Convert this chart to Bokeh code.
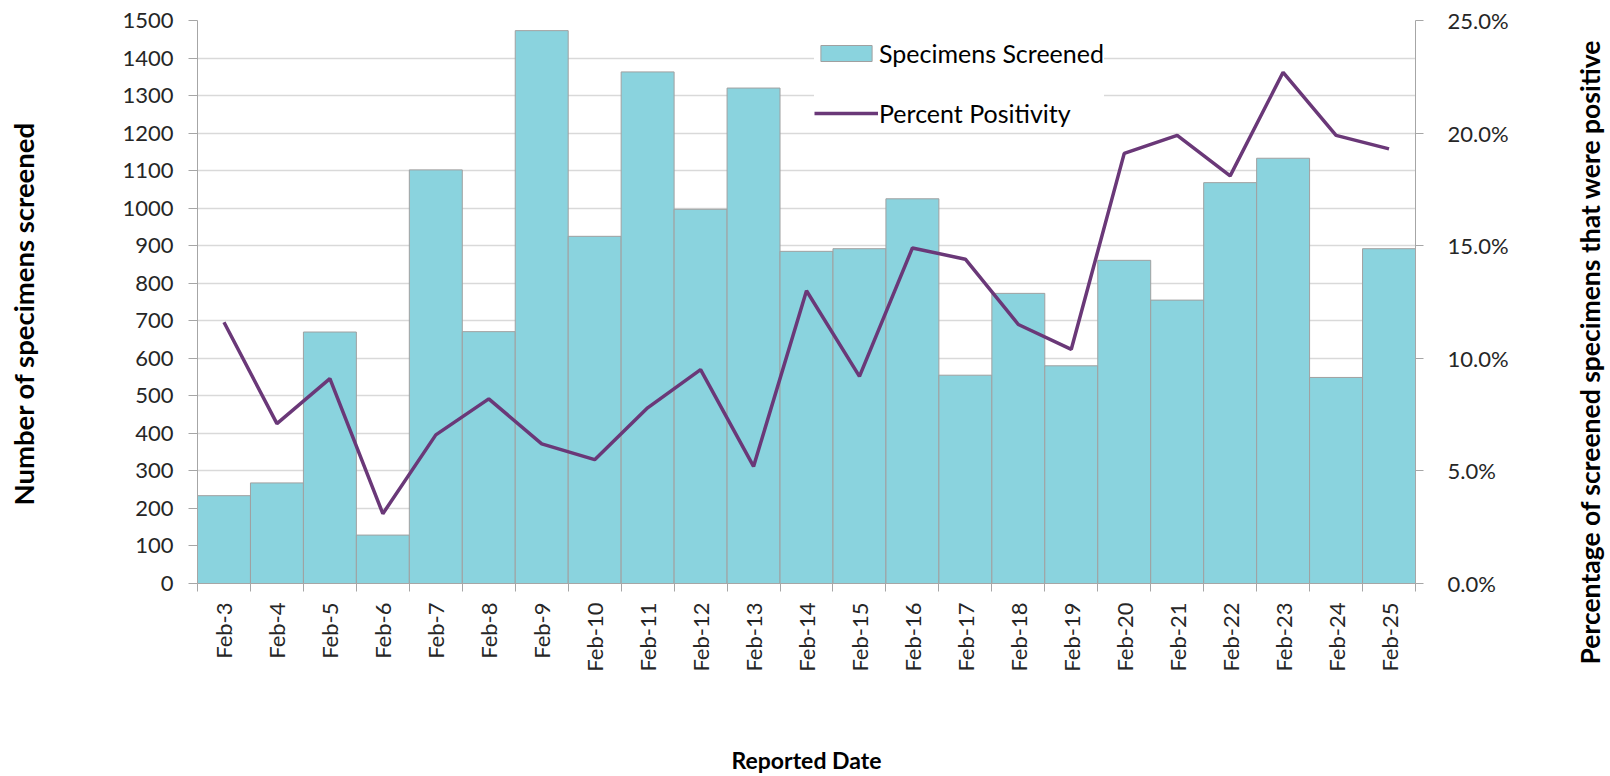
from bokeh.plotting import figure
from bokeh.layouts import row
from bokeh.models import (Range1d, LinearAxis, FixedTicker, CustomJSTickFormatter,
                          Legend, LegendItem, Title)
from bokeh.embed import file_html
from bokeh.resources import INLINE
import math

# ---- data ----
dates = ["Feb-3", "Feb-4", "Feb-5", "Feb-6", "Feb-7", "Feb-8", "Feb-9", "Feb-10",
         "Feb-11", "Feb-12", "Feb-13", "Feb-14", "Feb-15", "Feb-16", "Feb-17",
         "Feb-18", "Feb-19", "Feb-20", "Feb-21", "Feb-22", "Feb-23", "Feb-24", "Feb-25"]
specimens = [234, 268, 670, 129, 1102, 671, 1473, 925, 1363, 997, 1320, 885, 892,
             1025, 555, 773, 580, 861, 755, 1068, 1133, 549, 892]
positivity = [11.6, 7.1, 9.1, 3.1, 6.6, 8.2, 6.2, 5.5, 7.8, 9.5, 5.2, 13.0, 9.2,
              14.9, 14.4, 11.5, 10.4, 19.1, 19.9, 18.1, 22.7, 19.9, 19.3]
left_ticks = list(range(0, 1501, 100))
right_ticks = [0, 5, 10, 15, 20, 25]
left_title = "Number of specimens screened"
right_title = "Percentage of screened specimens that were positive"
x_title = "Reported Date"

n = len(dates)
centers = [i + 0.5 for i in range(n)]
bounds = list(range(n + 1))

FONT = "Lato"
TXT = "#262626"
AXC = "#A6A6A6"
H = 776
SW = 44                  # strips carrying the vertical titles
MW = 1610 - 2 * SW       # main figure width

p = figure(width=MW, height=H, output_backend="svg", toolbar_location=None,
           x_range=Range1d(0, n), y_range=Range1d(0, 1500),
           min_border_left=197 - SW, min_border_right=MW + SW - 1415,
           min_border_top=20, min_border_bottom=190)
p.outline_line_color = None
p.background_fill_color = "white"
p.border_fill_color = "white"
p.extra_y_ranges = {"pct": Range1d(0, 25)}

bars = p.vbar(x=centers, top=specimens, width=1, bottom=0,
              fill_color="#8AD3DE", line_color="#A0A0A0", line_width=1)
line = p.line(x=centers, y=positivity, y_range_name="pct",
              line_color="#6A3878", line_width=3.5)

# x axis
xa = p.xaxis[0]
xa.ticker = FixedTicker(ticks=centers, minor_ticks=bounds)
xa.formatter = CustomJSTickFormatter(args=dict(labels=dates),
                                     code="return labels[Math.floor(tick)];")
xa.major_label_orientation = math.pi / 2
xa.major_tick_out = 0
xa.major_tick_in = 0
xa.minor_tick_out = 8
xa.minor_tick_in = 0
xa.minor_tick_line_color = AXC
xa.axis_line_color = AXC
xa.major_label_standoff = 11
xa.major_label_text_font = FONT
xa.major_label_text_font_size = "22px"
xa.major_label_text_color = TXT
xa.axis_label = x_title
xa.axis_label_text_font = FONT
xa.axis_label_text_font_style = "bold"
xa.axis_label_text_font_size = "23px"
xa.axis_label_text_color = "black"
xa.axis_label_standoff = 71

# left axis
ya = p.yaxis[0]
ya.ticker = FixedTicker(ticks=left_ticks)
ya.major_tick_out = 9
ya.major_tick_in = 0
ya.minor_tick_line_color = None
ya.major_tick_line_color = AXC
ya.axis_line_color = AXC
ya.major_label_standoff = 15
ya.major_label_text_font = FONT
ya.major_label_text_font_size = "22px"
ya.major_label_text_color = TXT

# right axis
ra = LinearAxis(y_range_name="pct", ticker=FixedTicker(ticks=right_ticks),
                formatter=CustomJSTickFormatter(code="return tick.toFixed(1) + '%';"),
                major_tick_out=8, major_tick_in=0, major_label_standoff=24,
                minor_tick_line_color=None, major_tick_line_color=AXC,
                axis_line_color=AXC, major_label_text_font=FONT,
                major_label_text_font_size="22px", major_label_text_color=TXT)
p.add_layout(ra, "right")

# grid
p.xgrid.grid_line_color = None
p.ygrid.ticker = FixedTicker(ticks=left_ticks)
p.ygrid.grid_line_color = "#D9D9D9"
p.ygrid.grid_line_width = 1.5

legend = Legend(items=[LegendItem(label="Specimens Screened", renderers=[bars]),
                       LegendItem(label="Percent Positivity", renderers=[line])],
                location=(617, 455))
legend.label_text_font = FONT
legend.label_text_font_size = "25px"
legend.label_text_color = "black"
legend.glyph_width = 64
legend.glyph_height = 20
legend.label_height = 30
legend.spacing = 30
legend.padding = 10
legend.margin = 0
legend.label_standoff = 1
legend.border_line_color = None
legend.background_fill_color = "white"
legend.background_fill_alpha = 1.0
p.add_layout(legend)


def title_strip(text, offset, size):
    # a left-side Title of a thin strip reads bottom-to-top
    s = figure(width=SW, height=H, output_backend="svg", toolbar_location=None,
               x_range=Range1d(0, 1), y_range=Range1d(0, 1),
               x_axis_type=None, y_axis_type=None,
               min_border_left=SW - 4, min_border_right=0,
               min_border_top=0, min_border_bottom=0)
    s.outline_line_color = None
    s.background_fill_color = "white"
    s.border_fill_color = "white"
    t = Title(text=text, align="left", offset=offset, vertical_align="middle",
              standoff=0, text_font=FONT, text_font_style="bold",
              text_font_size=size, text_color="black")
    s.add_layout(t, "left")
    return s


left_strip = title_strip(left_title, 78, "27.5px")
right_strip = title_strip(right_title, -81, "26.5px")

layout = row(left_strip, p, right_strip, spacing=0)

open("out.html", "w").write(file_html(layout, INLINE))
